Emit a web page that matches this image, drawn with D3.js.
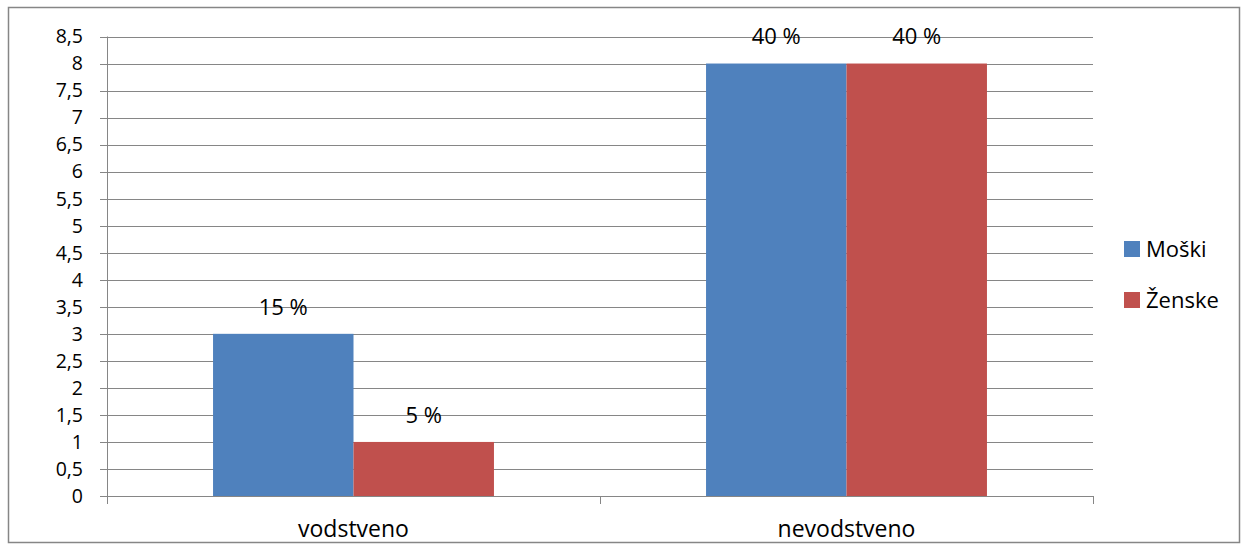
<!DOCTYPE html>
<html>
<head>
  <meta charset="utf-8">
  <title>Vodstveno</title>
  <style>
    body { margin: 0; background: #fff; font-family: 'Open Sans', sans-serif; }
    text { fill: #000; }
    .grid line { stroke: #868686; stroke-width: 1; }
    .axis path, .axis line { stroke: #868686; }
  </style>
</head>
<body>
  <div id="chart"></div>
  <script src="https://d3js.org/d3.v7.min.js"></script>
  <script>
    var categories = ['vodstveno', 'nevodstveno'];
    var series = ['Moški', 'Ženske'];
    var moski = [3, 8];
    var zenske = [1, 8];
    var moskiLabels = ['15 %', '40 %'];
    var zenskeLabels = ['5 %', '40 %'];
    var yTicks = [0, 0.5, 1, 1.5, 2, 2.5, 3, 3.5, 4, 4.5, 5, 5.5, 6, 6.5, 7, 7.5, 8, 8.5];
    var colors = ['#4F81BD', '#C0504D'];

    var width = 1247, height = 546;
    var plot = { left: 107, right: 1093, top: 36.5, bottom: 496 };
    var fontSize = '22px';

    var svg = d3.select('#chart').append('svg')
      .attr('width', width)
      .attr('height', height);

    // outer frame
    svg.append('rect')
      .attr('x', 8.5).attr('y', 7.5)
      .attr('width', 1231).attr('height', 535)
      .attr('fill', '#fff')
      .attr('stroke', '#868686')
      .attr('stroke-width', 1.5);

    var x = d3.scaleBand().domain(categories).range([plot.left, plot.right]);
    var xs = d3.scaleBand().domain(series).range([0, x.bandwidth()])
      .paddingInner(0).paddingOuter(0.755);
    var y = d3.scaleLinear().domain([0, 8.5]).range([plot.bottom, plot.top]);

    // gridlines with tick stubs
    svg.append('g').attr('class', 'grid')
      .selectAll('line').data(yTicks).enter().append('line')
      .attr('x1', plot.left - 7).attr('x2', plot.right)
      .attr('y1', function(d) { return Math.round(y(d)) + 0.5; })
      .attr('y2', function(d) { return Math.round(y(d)) + 0.5; });

    // y labels (slightly smaller so the rows do not collide)
    svg.append('g').selectAll('text').data(yTicks).enter().append('text')
      .attr('x', 83)
      .attr('y', function(d) { return y(d); })
      .attr('dy', '0.35em')
      .attr('text-anchor', 'end')
      .style('font-size', '19.5px')
      .text(function(d) { return String(d).replace('.', ','); });

    // bars
    var data = categories.map(function(c, i) {
      return [
        { cat: c, s: series[0], v: moski[i], label: moskiLabels[i], color: colors[0] },
        { cat: c, s: series[1], v: zenske[i], label: zenskeLabels[i], color: colors[1] }
      ];
    });
    var flat = [].concat.apply([], data);

    svg.append('g').selectAll('rect').data(flat).enter().append('rect')
      .attr('x', function(d) { return x(d.cat) + xs(d.s); })
      .attr('y', function(d) { return y(d.v); })
      .attr('width', xs.bandwidth())
      .attr('height', function(d) { return y(0) - y(d.v); })
      .attr('fill', function(d) { return d.color; });

    svg.append('g').selectAll('text').data(flat).enter().append('text')
      .attr('x', function(d) { return x(d.cat) + xs(d.s) + xs.bandwidth() / 2; })
      .attr('y', function(d) { return y(d.v) - 27; })
      .attr('dy', '0.35em')
      .attr('text-anchor', 'middle')
      .style('font-size', fontSize)
      .text(function(d) { return d.label; });

    // y axis line
    svg.append('line')
      .attr('x1', plot.left + 0.5).attr('x2', plot.left + 0.5)
      .attr('y1', plot.top).attr('y2', plot.bottom + 8)
      .attr('stroke', '#868686');

    // x axis
    var xAxis = svg.append('g').attr('class', 'axis');
    xAxis.append('line')
      .attr('x1', plot.left).attr('x2', plot.right)
      .attr('y1', Math.round(y(0)) + 0.5).attr('y2', Math.round(y(0)) + 0.5);
    var xTicks = categories.map(function(c) { return x(c); }).concat([plot.right]);
    xAxis.selectAll('line.tick').data(xTicks).enter().append('line')
      .attr('class', 'tick')
      .attr('x1', function(d) { return Math.round(d) + 0.5; })
      .attr('x2', function(d) { return Math.round(d) + 0.5; })
      .attr('y1', plot.bottom).attr('y2', plot.bottom + 8);
    xAxis.selectAll('text').data(categories).enter().append('text')
      .attr('x', function(d) { return x(d) + x.bandwidth() / 2; })
      .attr('y', 529)
      .attr('dy', '0.35em')
      .attr('text-anchor', 'middle')
      .style('font-size', '23px')
      .text(function(d) { return d; });

    // legend
    var legend = svg.append('g').attr('transform', 'translate(1124,249)');
    var li = legend.selectAll('g').data(series).enter().append('g')
      .attr('transform', function(d, i) { return 'translate(0,' + i * 51 + ')'; });
    li.append('rect')
      .attr('x', 0).attr('y', -8)
      .attr('width', 16).attr('height', 16)
      .attr('fill', function(d, i) { return colors[i]; });
    li.append('text')
      .attr('x', 22).attr('y', 0)
      .attr('dy', '0.35em')
      .style('font-size', '22px')
      .text(function(d) { return d; });
  </script>
</body>
</html>
